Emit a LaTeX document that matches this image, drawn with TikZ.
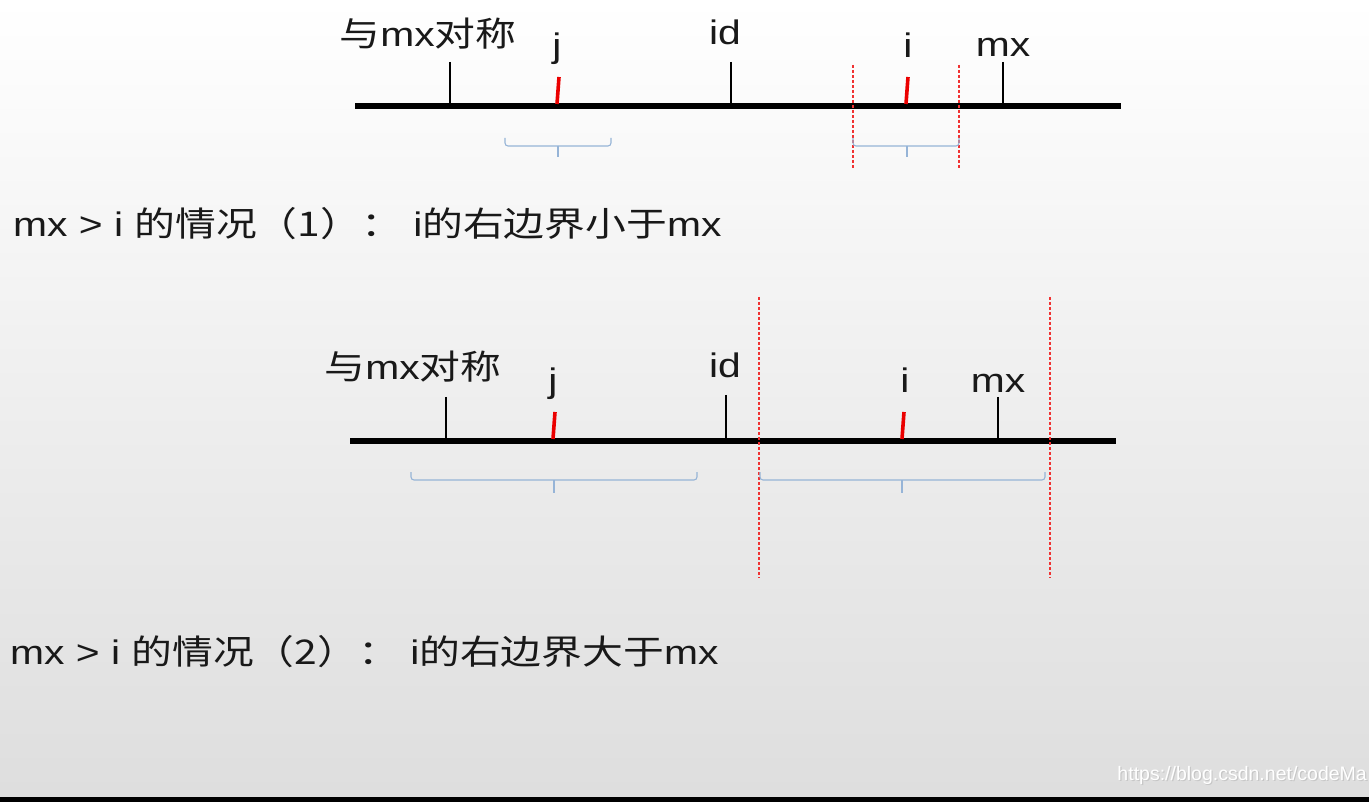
\documentclass[tikz,border=0pt]{standalone}
\usepackage{fontspec}
\setmainfont{Liberation Sans}[FakeStretch=1.2]
\newfontfamily\cjk{Noto Sans CJK SC}[FakeStretch=1.2]
\newfontfamily\wmfont{Liberation Sans}
\definecolor{bracecol}{RGB}{150,180,215}
\definecolor{tickred}{RGB}{235,0,0}
\definecolor{dashred}{RGB}{240,50,50}
\definecolor{txt}{RGB}{25,25,25}
\tikzset{
  axisline/.style={line width=5.8pt, black},
  blacktick/.style={line width=2.4pt, black},
  redtick/.style={line width=3.6pt, tickred},
  bracepath/.style={line width=1.1pt, bracecol, rounded corners=3pt},
  reddash/.style={line width=1.1pt, dashred, dash pattern=on 3pt off 2pt},
  lbl/.style={font=\fontsize{34}{40}\selectfont, text=txt, inner sep=0pt, anchor=base},
  caption/.style={font=\fontsize{34}{40}\selectfont, text=txt, inner sep=0pt, anchor=base west},
  wmstyle/.style={font=\wmfont\fontsize{19.5}{22}\selectfont, inner sep=0pt, anchor=base east},
}
\begin{document}
\begin{tikzpicture}[x=1pt,y=-1pt]
\useasboundingbox (0,0) rectangle (1369,802);
\shade[top color=white, bottom color=black!13] (0,0) rectangle (1369,797);
\fill[black] (0,797) rectangle (1369,802);

% ---------- diagram 1 ----------
\coordinate (a1l) at (355,106);
\coordinate (a1r) at (1121,106);
\draw[axisline] (a1l) -- (a1r);
\draw[blacktick] (450,62) -- (450,104);
\draw[blacktick] (731,62) -- (731,104);
\draw[blacktick] (1003,62) -- (1003,104);
\draw[redtick] (559,77) -- (557,104);
\draw[redtick] (908,77) -- (906,104);
\node[lbl] (sym1) at (428,47) {{\cjk 与}mx{\cjk 对称}};
\node[lbl] (j1) at (557,58) {j};
\node[lbl] (id1) at (725,45) {id};
\node[lbl] (i1) at (908,58) {i};
\node[lbl] (mx1) at (1003,57) {mx};
\draw[reddash] (853,65) -- (853,169);
\draw[reddash] (959,65) -- (959,169);
\draw[bracepath] (505,138) -- (505,146) -- (611,146) -- (611,138);
\draw[bracecol, line width=1.1pt] (558,146) -- (558,157);
\draw[bracepath] (853,138) -- (853,146) -- (959,146) -- (959,138);
\draw[bracecol, line width=1.1pt] (907,146) -- (907,157);
\node[caption] (cap1) at (13,237) {mx > i {\cjk 的情况（1）：} i{\cjk 的右边界小于}mx};

% ---------- diagram 2 ----------
\coordinate (a2l) at (350,441);
\coordinate (a2r) at (1116,441);
\draw[axisline] (a2l) -- (a2r);
\draw[blacktick] (446,397) -- (446,439);
\draw[blacktick] (726,395) -- (726,439);
\draw[blacktick] (998,397) -- (998,439);
\draw[redtick] (555,412) -- (553,439);
\draw[redtick] (904,412) -- (902,439);
\node[lbl] (sym2) at (413,380) {{\cjk 与}mx{\cjk 对称}};
\node[lbl] (j2) at (553,392) {j};
\node[lbl] (id2) at (725,378) {id};
\node[lbl] (i2) at (905,393) {i};
\node[lbl] (mx2) at (998,393) {mx};
\draw[reddash] (759,297) -- (759,578);
\draw[reddash] (1050,297) -- (1050,578);
\draw[bracepath] (411,472) -- (411,480) -- (697,480) -- (697,472);
\draw[bracecol, line width=1.1pt] (554,480) -- (554,493);
\draw[bracepath] (760,472) -- (760,480) -- (1045,480) -- (1045,472);
\draw[bracecol, line width=1.1pt] (902,480) -- (902,493);
\node[caption] (cap2) at (10,664) {mx > i {\cjk 的情况（2）：} i{\cjk 的右边界大于}mx};

% ---------- watermark ----------
\node[wmstyle, text=black!22] at (1368.2,781.2) {https://blog.csdn.net/codeMa};
\node[wmstyle, text=white] (wm) at (1367,780) {https://blog.csdn.net/codeMa};
\end{tikzpicture}
\end{document}
